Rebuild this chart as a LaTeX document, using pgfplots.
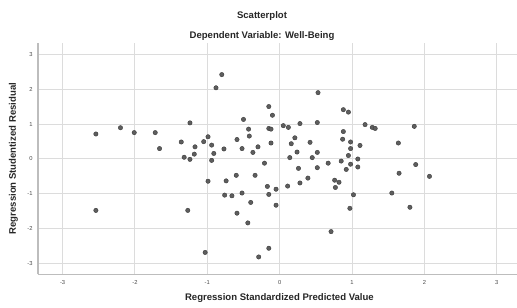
\documentclass[border=0pt]{standalone}
\usepackage{pgfplots}
\pgfplotsset{compat=1.18}
\usepackage{fontspec}
\setmainfont{Liberation Sans}
\definecolor{gridc}{HTML}{DCDCDC}
\definecolor{axc}{HTML}{BDBDBD}
\definecolor{dotfill}{HTML}{5E5E5E}
\definecolor{dotedge}{HTML}{3A3A3A}
\definecolor{txt}{HTML}{262626}
\definecolor{tick}{HTML}{4A4A4A}
\pgfplotstableread{
x y
-2.54 0.72
-2.20 0.90
-2.01 0.76
-1.72 0.76
-1.66 0.30
-1.24 1.04
-1.36 0.49
-1.17 0.35
-1.18 0.14
-1.32 0.05
-1.24 -0.01
-2.54 -1.48
-1.27 -1.48
-0.80 2.43
-0.88 2.05
-0.15 1.51
-0.10 1.26
-0.50 1.14
-0.43 0.86
-0.15 0.88
-0.12 0.86
0.05 0.96
-0.42 0.66
-0.59 0.56
-0.99 0.64
-1.05 0.50
-0.94 0.40
-0.77 0.29
-0.52 0.30
-0.12 0.46
-0.30 0.35
-0.37 0.19
-0.91 0.16
-0.94 -0.04
-0.21 -0.12
-0.99 -0.64
-0.74 -0.63
-0.60 -0.47
-0.34 -0.47
-0.17 -0.79
-0.05 -0.87
-0.15 -1.02
-0.05 -1.33
-0.76 -1.04
-0.66 -1.06
-0.52 -0.98
-0.40 -1.25
-0.59 -1.56
-0.44 -1.84
-1.03 -2.69
-0.15 -2.57
-0.29 -2.82
0.53 1.91
0.88 1.42
0.95 1.35
0.12 0.91
0.28 1.02
0.52 1.05
1.18 0.99
0.88 0.79
0.21 0.61
0.42 0.48
0.16 0.44
0.87 0.57
0.98 0.49
1.11 0.39
0.98 0.30
0.24 0.20
0.52 0.19
0.45 0.04
0.14 0.04
0.95 0.10
1.08 0.00
0.85 -0.06
0.67 -0.12
0.26 -0.27
0.52 -0.25
0.92 -0.30
0.98 -0.15
1.08 -0.23
0.11 -0.78
0.28 -0.69
0.39 -0.55
0.76 -0.61
0.82 -0.67
0.77 -0.82
1.02 -1.03
0.97 -1.42
0.71 -2.09
1.28 0.91
1.32 0.88
1.86 0.94
1.64 0.46
1.88 -0.16
1.65 -0.41
2.07 -0.50
1.55 -0.98
1.80 -1.39
}\resid
\begin{document}
\begin{tikzpicture}[x=1bp,y=1bp]
\useasboundingbox (0,0) rectangle (517,307);
\node[font=\bfseries\fontsize{9.6}{11}\selectfont, text=txt] at (262,291) {Scatterplot};
\node[font=\bfseries\fontsize{9.6}{11}\selectfont, text=txt] at (262,271) {Dependent Variable: Well-Being};
\begin{axis}[
  at={(38bp,32.7bp)}, anchor=south west,
  scale only axis, width=479bp, height=231.3bp,
  xmin=-3.34, xmax=3.28, ymin=-3.32, ymax=3.34,
  axis lines*=left,
  axis line style={-, draw=axc, line width=1.2bp},
  xtick={-3,-2,-1,0,1,2,3}, ytick={-3,-2,-1,0,1,2,3},
  major tick length=0pt,
  grid=major,
  major grid style={draw=gridc, line width=1bp},
  /pgf/number format/assume math mode=true,
  tick label style={font=\fontsize{5.8}{6}\selectfont, text=tick},
  xticklabel style={yshift=-3bp},
  yticklabel style={xshift=-2bp},
  xlabel={Regression Standardized Predicted Value},
  ylabel={Regression Studentized Residual},
  every axis x label/.style={at={([yshift=-24bp]axis description cs:0.504,0)}, anchor=center, font=\bfseries\fontsize{9.6}{11}\selectfont, text=txt},
  every axis y label/.style={at={([xshift=-24.5bp]axis description cs:0,0.5)}, anchor=center, rotate=90, font=\bfseries\fontsize{9.6}{11}\selectfont, text=txt},
  clip=false,
]
\addplot[only marks, mark=*, mark size=2.2bp, mark options={fill=dotfill, draw=dotedge, line width=0.4bp}] table[x=x,y=y] {\resid};
\end{axis}
\end{tikzpicture}
\end{document}
